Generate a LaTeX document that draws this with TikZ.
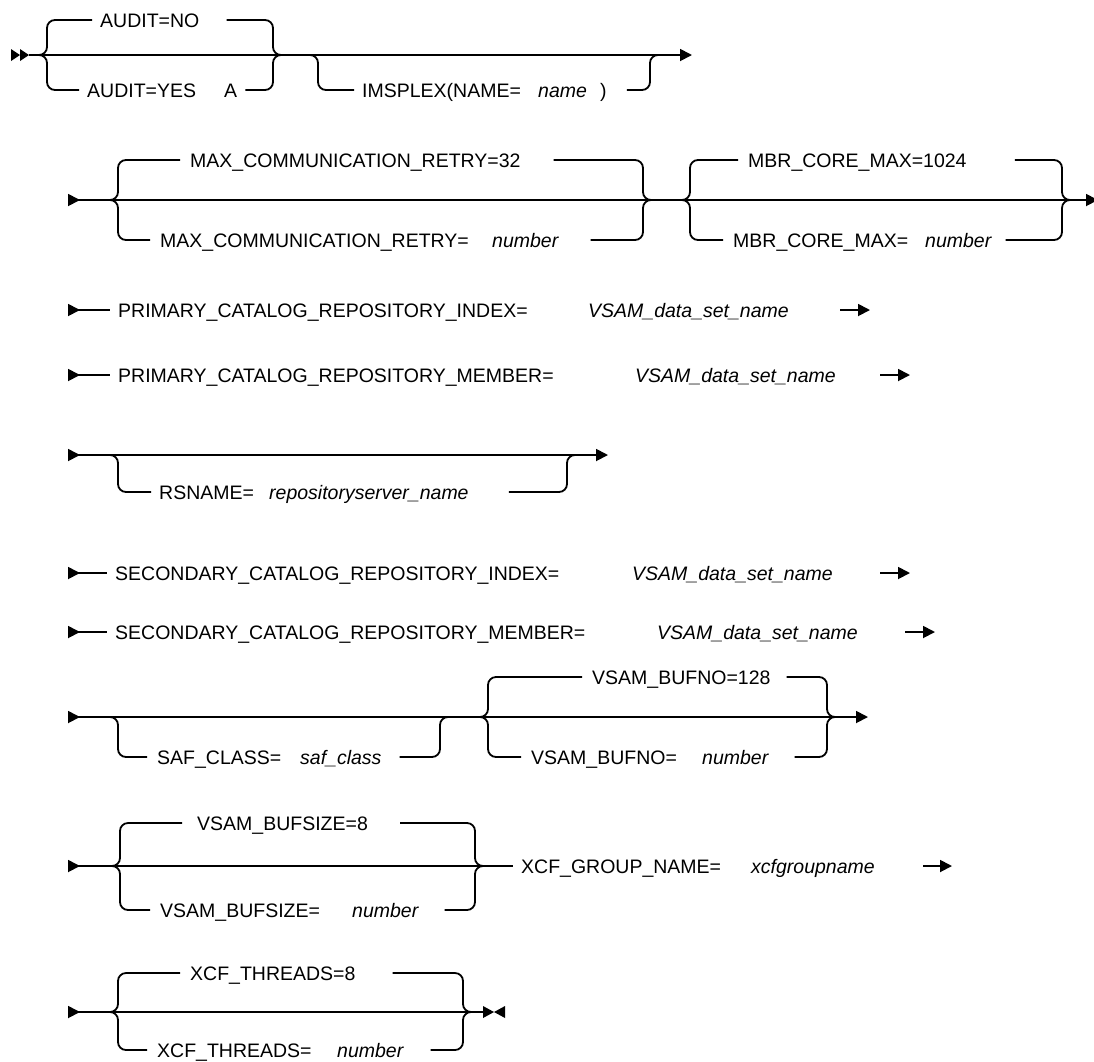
\documentclass[tikz,border=0pt]{standalone}
\usepackage{fontspec}
\setmainfont{Liberation Sans}
\usetikzlibrary{arrows.meta}

\begin{document}
\begin{tikzpicture}[
  x=1pt, y=-1pt,
  rail/.style={line width=1.8pt, rounded corners=8pt},
  flow/.style={line width=1.8pt, -{Triangle[length=12pt,width=12pt]}},
  entry/.style={line width=1.8pt, {Triangle[reversed,length=12pt,width=12pt]}-},
  entryflow/.style={line width=1.8pt,
    {Triangle[reversed,length=12pt,width=12pt]}-{Triangle[length=12pt,width=12pt]}},
  word/.style={anchor=west, inner sep=0pt, text height=14pt, text depth=0pt,
    font=\fontsize{19.5}{22}\selectfont},
  param/.style={word, font=\fontsize{19.5}{22}\selectfont\itshape}
]
  \useasboundingbox (0,0) rectangle (1094,1061);

  % AUDIT choice and optional IMSPLEX
  \coordinate (r1a) at (29,55);
  \coordinate (r1z) at (692,55);
  \coordinate (auL) at (47,55);
  \coordinate (auR) at (273,55);
  \coordinate (imL) at (318,55);
  \coordinate (imR) at (650,55);
  \node[word] (auditno) at (100,20) {AUDIT=NO};
  \node[word] (audityes) at (87,90) {AUDIT=YES\hspace{28pt}A};
  \node[word] (imsplex) at (362,90) {IMSPLEX(NAME=};
  \node[param] (imname) at (538,90) {name};
  \node[word] (imclose) at (600,90) {)};
  \fill (11,49) -- (20,55) -- (11,61) -- cycle (20,49) -- (29,55) -- (20,61) -- cycle;
  \draw[flow] (r1a) -- (r1z);
  \draw[rail] ([xshift=-8pt]auL) -- (auL) |- ([xshift=-8pt]auditno.west);
  \draw[rail] ([xshift=27pt]auditno.east) -| (auR) -- ([xshift=8pt]auR);
  \draw[rail] ([xshift=-8pt]auL) -- (auL) |- ([xshift=-8pt]audityes.west);
  \draw[rail] ([xshift=8pt]audityes.east) -| (auR) -- ([xshift=8pt]auR);
  \draw[rail] ([xshift=-8pt]imL) -- (imL) |- ([xshift=-8pt]imsplex.west);
  \draw[rail] ([xshift=20pt]imclose.east) -| (imR) -- ([xshift=8pt]imR);

  % retry count and core max
  \coordinate (r2a) at (68,200);
  \coordinate (r2z) at (1098,200);
  \coordinate (mcL) at (118,200);
  \coordinate (mcR) at (643,200);
  \coordinate (mbL) at (690,200);
  \coordinate (mbR) at (1062,200);
  \node[word] (mcdef) at (190,160) {MAX\_COMMUNICATION\_RETRY=32};
  \node[word] (mcset) at (160,240) {MAX\_COMMUNICATION\_RETRY=};
  \node[param] (mcnum) at (492,240) {number};
  \node[word] (mbdef) at (748,160) {MBR\_CORE\_MAX=1024};
  \node[word] (mbset) at (733,240) {MBR\_CORE\_MAX=};
  \node[param] (mbnum) at (925,240) {number};
  \draw[entryflow] (r2a) -- (r2z);
  \draw[rail] ([xshift=-8pt]mcL) -- (mcL) |- ([xshift=-10pt]mcdef.west);
  \draw[rail] ([xshift=33pt]mcdef.east) -| (mcR) -- ([xshift=8pt]mcR);
  \draw[rail] ([xshift=-8pt]mcL) -- (mcL) |- ([xshift=-10pt]mcset.west);
  \draw[rail] ([xshift=32pt]mcnum.east) -| (mcR) -- ([xshift=8pt]mcR);
  \draw[rail] ([xshift=-8pt]mbL) -- (mbL) |- ([xshift=-10pt]mbdef.west);
  \draw[rail] ([xshift=48pt]mbdef.east) -| (mbR) -- ([xshift=8pt]mbR);
  \draw[rail] ([xshift=-8pt]mbL) -- (mbL) |- ([xshift=-10pt]mbset.west);
  \draw[rail] ([xshift=14pt]mbnum.east) -| (mbR) -- ([xshift=8pt]mbR);

  % catalog repositories
  \coordinate (r3a) at (68,310);
  \coordinate (r3y) at (840,310);
  \coordinate (r3z) at (870,310);
  \node[word] (pcri) at (118,310) {PRIMARY\_CATALOG\_REPOSITORY\_INDEX=};
  \node[param] (pcrival) at (588,310) {VSAM\_data\_set\_name};
  \draw[entry] (r3a) -- ([xshift=-8pt]pcri.west);
  \draw[flow] (r3y) -- (r3z);

  \coordinate (r4a) at (68,375);
  \coordinate (r4y) at (880,375);
  \coordinate (r4z) at (910,375);
  \node[word] (pcrm) at (118,375) {PRIMARY\_CATALOG\_REPOSITORY\_MEMBER=};
  \node[param] (pcrmval) at (635,375) {VSAM\_data\_set\_name};
  \draw[entry] (r4a) -- ([xshift=-8pt]pcrm.west);
  \draw[flow] (r4y) -- (r4z);

  % optional server name
  \coordinate (r5a) at (68,455);
  \coordinate (r5z) at (608,455);
  \coordinate (rsL) at (118,455);
  \coordinate (rsR) at (567,455);
  \node[word] (rsname) at (159,492) {RSNAME=};
  \node[param] (rsval) at (269,492) {repositoryserver\_name};
  \draw[entryflow] (r5a) -- (r5z);
  \draw[rail] ([xshift=-8pt]rsL) -- (rsL) |- ([xshift=-8pt]rsname.west);
  \draw[rail] ([xshift=40pt]rsval.east) -| (rsR) -- ([xshift=8pt]rsR);

  \coordinate (r6a) at (68,573);
  \coordinate (r6y) at (880,573);
  \coordinate (r6z) at (910,573);
  \node[word] (scri) at (115,573) {SECONDARY\_CATALOG\_REPOSITORY\_INDEX=};
  \node[param] (scrival) at (632,573) {VSAM\_data\_set\_name};
  \draw[entry] (r6a) -- ([xshift=-8pt]scri.west);
  \draw[flow] (r6y) -- (r6z);

  \coordinate (r7a) at (68,632);
  \coordinate (r7y) at (905,632);
  \coordinate (r7z) at (935,632);
  \node[word] (scrm) at (115,632) {SECONDARY\_CATALOG\_REPOSITORY\_MEMBER=};
  \node[param] (scrmval) at (657,632) {VSAM\_data\_set\_name};
  \draw[entry] (r7a) -- ([xshift=-8pt]scrm.west);
  \draw[flow] (r7y) -- (r7z);

  % SAF class and buffer number
  \coordinate (r8a) at (68,717);
  \coordinate (r8z) at (868,717);
  \coordinate (safL) at (118,717);
  \coordinate (safR) at (440,717);
  \coordinate (bnL) at (488,717);
  \coordinate (bnR) at (827,717);
  \node[word] (safset) at (157,757) {SAF\_CLASS=};
  \node[param] (safval) at (300,757) {saf\_class};
  \node[word] (bndef) at (592,677) {VSAM\_BUFNO=128};
  \node[word] (bnset) at (531,757) {VSAM\_BUFNO=};
  \node[param] (bnnum) at (702,757) {number};
  \draw[entryflow] (r8a) -- (r8z);
  \draw[rail] ([xshift=-8pt]safL) -- (safL) |- ([xshift=-10pt]safset.west);
  \draw[rail] ([xshift=18pt]safval.east) -| (safR) -- ([xshift=8pt]safR);
  \draw[rail] ([xshift=-8pt]bnL) -- (bnL) |- ([xshift=-10pt]bndef.west);
  \draw[rail] ([xshift=16pt]bndef.east) -| (bnR) -- ([xshift=8pt]bnR);
  \draw[rail] ([xshift=-8pt]bnL) -- (bnL) |- ([xshift=-10pt]bnset.west);
  \draw[rail] ([xshift=26pt]bnnum.east) -| (bnR) -- ([xshift=8pt]bnR);

  % buffer size and group name
  \coordinate (r9a) at (68,866);
  \coordinate (r9y) at (923,866);
  \coordinate (r9z) at (952,866);
  \coordinate (bsL) at (120,866);
  \coordinate (bsR) at (475,866);
  \node[word] (bsdef) at (197,823) {VSAM\_BUFSIZE=8};
  \node[word] (bsset) at (160,910) {VSAM\_BUFSIZE=};
  \node[param] (bsnum) at (352,910) {number};
  \node[word] (xgroup) at (521,866) {XCF\_GROUP\_NAME=};
  \node[param] (xgval) at (751,866) {xcfgroupname};
  \draw[entry] (r9a) -- ([xshift=-8pt]xgroup.west);
  \draw[rail] ([xshift=-8pt]bsL) -- (bsL) |- ([xshift=-15pt]bsdef.west);
  \draw[rail] ([xshift=32pt]bsdef.east) -| (bsR) -- ([xshift=8pt]bsR);
  \draw[rail] ([xshift=-8pt]bsL) -- (bsL) |- ([xshift=-10pt]bsset.west);
  \draw[rail] ([xshift=26pt]bsnum.east) -| (bsR) -- ([xshift=8pt]bsR);
  \draw[flow] (r9y) -- (r9z);

  % thread count, end of diagram
  \coordinate (r10a) at (68,1012);
  \coordinate (r10z) at (483,1012);
  \coordinate (xtL) at (118,1012);
  \coordinate (xtR) at (463,1012);
  \node[word] (xtdef) at (190,973) {XCF\_THREADS=8};
  \node[word] (xtset) at (157,1050) {XCF\_THREADS=};
  \node[param] (xtnum) at (337,1050) {number};
  \draw[entry] (r10a) -- (r10z);
  \draw[rail] ([xshift=-8pt]xtL) -- (xtL) |- ([xshift=-10pt]xtdef.west);
  \draw[rail] ([xshift=37pt]xtdef.east) -| (xtR) -- ([xshift=8pt]xtR);
  \draw[rail] ([xshift=-8pt]xtL) -- (xtL) |- ([xshift=-10pt]xtset.west);
  \draw[rail] ([xshift=27pt]xtnum.east) -| (xtR) -- ([xshift=8pt]xtR);
  \fill (483,1006) -- (494,1012) -- (483,1018) -- cycle
        (505,1006) -- (494,1012) -- (505,1018) -- cycle;
\end{tikzpicture}
\end{document}
